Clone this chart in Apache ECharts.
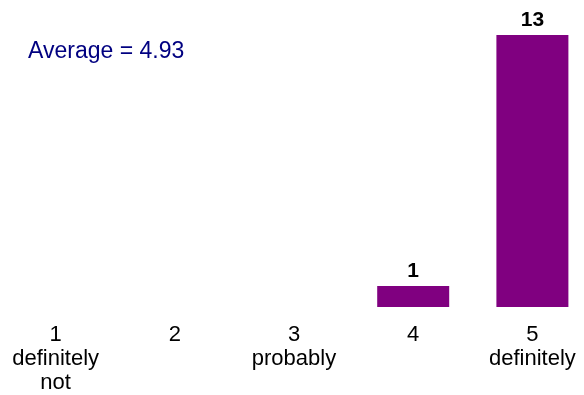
<!DOCTYPE html>
<html>
<head>
<meta charset="utf-8">
<script src="https://cdn.jsdelivr.net/npm/echarts@6/dist/echarts.min.js"></script>
<style>
  html, body { margin: 0; padding: 0; background: #ffffff; }
  #chart { width: 584px; height: 395px; }
</style>
</head>
<body>
<div id="chart"></div>
<script>
// Rating scale categories and their response counts
const categories = ['1\ndefinitely\nnot', '2', '3\nprobably', '4', '5\ndefinitely'];
const counts = [0, 0, 0, 1, 13];
const averageText = 'Average = 4.93';

const chart = echarts.init(document.getElementById('chart'), null, { renderer: 'canvas' });

chart.setOption({
  animation: false,
  backgroundColor: '#ffffff',
  grid: {
    left: -4, right: -8, top: 35, bottom: 88,
    containLabel: false,
    outerBoundsMode: 'none'
  },
  xAxis: {
    type: 'category',
    data: categories,
    axisLine: { show: false },
    axisTick: { show: false },
    axisLabel: {
      interval: 0,
      margin: 16,
      color: '#000000',
      fontFamily: 'Liberation Sans, Arial, sans-serif',
      fontSize: 22,
      lineHeight: 24,
      verticalAlign: 'top'
    }
  },
  yAxis: {
    type: 'value',
    min: 0,
    max: 13,
    show: false,
    splitLine: { show: false }
  },
  series: [{
    type: 'bar',
    data: counts.map(v => (v === 0 ? null : v)),
    barWidth: 72,
    itemStyle: { color: '#800080' },
    label: {
      show: true,
      position: 'top',
      distance: 4,
      color: '#000000',
      fontFamily: 'Liberation Sans, Arial, sans-serif',
      fontWeight: 'bold',
      fontSize: 21
    }
  }],
  graphic: [{
    type: 'text',
    left: 28,
    top: 40,
    style: {
      text: averageText,
      fill: '#000080',
      font: '23px "Liberation Sans", Arial, sans-serif'
    }
  }]
});
</script>
</body>
</html>
